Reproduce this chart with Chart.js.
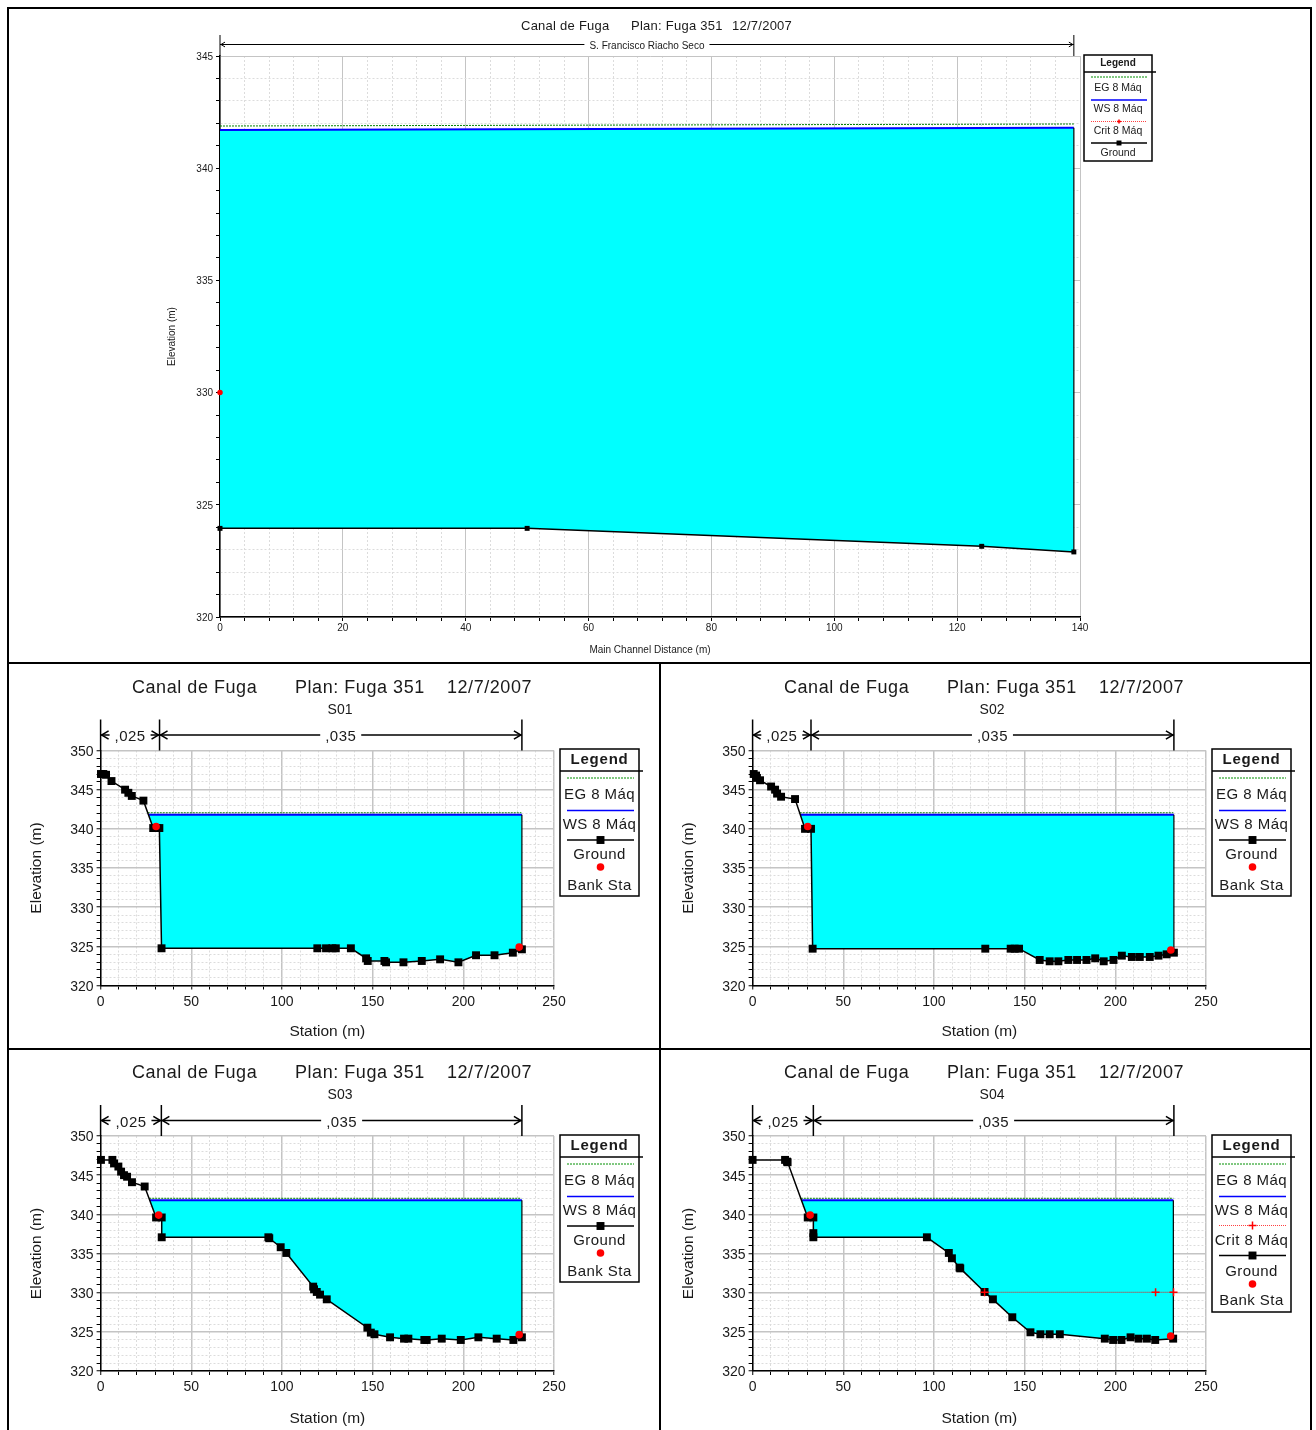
<!DOCTYPE html>
<html>
<head>
<meta charset="utf-8">
<title>Canal de Fuga</title>
<script src="https://cdn.jsdelivr.net/npm/chart.js@4"></script>
<style>
    html, body { margin: 0; height: 1430px; overflow: hidden; background: #fff; }
    canvas { position: absolute; }
    .rule { position: absolute; background: #000; }
</style>
</head>
<body>
<div class="rule" style="left:7px;top:7px;width:1305px;height:2px"></div>
<div class="rule" style="left:7px;top:7px;width:2px;height:1423px"></div>
<div class="rule" style="left:1310px;top:7px;width:2px;height:1423px"></div>
<div class="rule" style="left:7px;top:662px;width:1305px;height:2px"></div>
<div class="rule" style="left:7px;top:1048px;width:1305px;height:2px"></div>
<div class="rule" style="left:659px;top:662px;width:2px;height:768px"></div>
<script>
// Tick labels
const profileXLabels = [0, 20, 40, 60, 80, 100, 120, 140];
const profileYLabels = [320, 325, 330, 335, 340, 345];
const sectionXLabels = [0, 50, 100, 150, 200, 250];
const sectionYLabels = [320, 325, 330, 335, 340, 345, 350];

// Longitudinal profile
const profileGroundX = [0, 50, 124, 139];
const profileGroundY = [323.95, 323.95, 323.15, 322.9];
const profileWsX = [0, 139];
const profileWsY = [341.7, 341.8];
const profileEgX = [0, 139];
const profileEgY = [341.88, 341.97];
const profileCritX = [0];
const profileCritY = [330];

// S01
const s01GroundX = [0.2, 1.5, 3, 6, 13.5, 15.3, 17.2, 23.6, 29, 31, 32.4, 33.6, 119.5, 124.3, 127.8, 129.7, 138, 146.4, 147.3, 156.5, 157.4, 167, 177.1, 187.2, 197.3, 207, 217.2, 227.3, 232.3];
const s01GroundY = [347, 347, 346.9, 346.1, 345, 344.6, 344.2, 343.6, 340.1, 340.1, 340.1, 324.75, 324.75, 324.75, 324.75, 324.75, 324.75, 323.47, 323.13, 323.13, 322.96, 322.96, 323.13, 323.34, 322.96, 323.86, 323.86, 324.19, 324.62];
const s01WsX = [26.4, 232.3];
const s01WsY = [341.8, 341.8];
const s01EgX = [26, 232];
const s01EgY = [342.05, 342.05];
const s01BankX = [30.6, 230.8];
const s01BankY = [340.3, 324.9];

// S02
const s02GroundX = [0.6, 1.9, 2.4, 4.1, 10.2, 12.4, 13.5, 15.7, 23.4, 28.9, 32.2, 33.1, 128.3, 142.3, 144.5, 146.9, 158.3, 163.8, 168.6, 174.1, 178.9, 184.1, 188.9, 193.6, 199, 203.6, 209.1, 213.5, 219, 223.8, 228.3, 232.3];
const s02GroundY = [347, 346.8, 346.5, 346.2, 345.4, 345, 344.5, 344.1, 343.8, 340, 340, 324.7, 324.7, 324.7, 324.7, 324.7, 323.26, 323.09, 323.09, 323.26, 323.26, 323.26, 323.47, 323.09, 323.26, 323.81, 323.64, 323.64, 323.64, 323.81, 323.98, 324.19];
const s02WsX = [26.3, 232.3];
const s02WsY = [341.8, 341.8];
const s02EgX = [26, 232];
const s02EgY = [342.05, 342.05];
const s02BankX = [30.4, 230.6];
const s02BankY = [340.3, 324.53];

// S03
const s03GroundX = [0.2, 6.5, 7.4, 9.8, 11.3, 12.9, 14.6, 17.3, 24.3, 30.6, 33.7, 33.7, 92.5, 93, 99.3, 102.4, 117.2, 117.7, 119.2, 121, 124.7, 147.1, 149, 151, 159.6, 167.3, 169.7, 178.5, 179.8, 188.1, 198.6, 208.3, 218.4, 227.6, 232.3];
const s03GroundY = [346.95, 346.95, 346.5, 346.1, 345.45, 345, 344.8, 344.1, 343.55, 339.6, 339.6, 337.07, 337.07, 336.95, 335.8, 335.07, 330.77, 330.43, 330.09, 329.75, 329.15, 325.53, 324.9, 324.69, 324.3, 324.13, 324.13, 323.96, 323.96, 324.13, 323.96, 324.3, 324.13, 323.96, 324.3];
const s03WsX = [27.1, 232.3];
const s03WsY = [341.8, 341.8];
const s03EgX = [26.8, 232];
const s03EgY = [342.05, 342.05];
const s03BankX = [32, 230.8];
const s03BankY = [339.9, 324.64];

// S04
const s04GroundX = [0, 17.9, 19, 19.3, 30.4, 33.5, 33.5, 33.5, 96.1, 108.2, 109.9, 114.1, 114.5, 127.9, 132.5, 143.2, 153.2, 158.7, 163.8, 169.4, 194.2, 198.8, 203.4, 208.4, 212.8, 217.4, 222, 231.9];
const s04GroundY = [346.95, 346.95, 346.73, 346.65, 339.6, 339.6, 337.6, 337.07, 337.07, 335.07, 334.39, 333.2, 333.1, 330.09, 329.15, 326.86, 324.94, 324.69, 324.69, 324.69, 324.13, 323.96, 323.96, 324.3, 324.13, 324.13, 323.96, 324.13];
const s04WsX = [26.9, 232];
const s04WsY = [341.8, 341.8];
const s04EgX = [26.6, 232];
const s04EgY = [342.05, 342.05];
const s04CritX = [127.9, 222.2, 232.1];
const s04CritY = [330.05, 330.05, 330.05];
const s04BankX = [31.7, 230.5];
const s04BankY = [339.9, 324.47];

// Roughness bands: station of each break and the label between breaks
const s01Breaks = [0, 32.5, 232.3];
const s02Breaks = [0, 32.2, 232.3];
const s03Breaks = [0, 33.5, 232.3];
const s04Breaks = [0, 33.5, 232.3];
const manningLabels = [',025', ',035'];
const profileBreaks = [0, 139];
const profileBandLabels = ['S. Francisco Riacho Seco'];

const titleParts = ['Canal de Fuga', 'Plan: Fuga 351', '12/7/2007'];
const profileLegend = ['EG 8 Máq', 'WS 8 Máq', 'Crit 8 Máq', 'Ground'];
const sectionLegend = ['EG 8 Máq', 'WS 8 Máq', 'Ground', 'Bank Sta'];
const s04Legend = ['EG 8 Máq', 'WS 8 Máq', 'Crit 8 Máq', 'Ground', 'Bank Sta'];

const FONT = '"Liberation Sans", Arial, sans-serif';
const TEXT = '#1a1a1a';

function toPoints(xs, ys) {
    return xs.map((x, i) => ({ x, y: ys[i] }));
}

// Sizes for the big profile plot and for the four small cross sections
const profileLook = {
    tick: 10, axisTitle: 10, title: 13, sub: 10, legend: 10.5, legendTitle: 10,
    square: 3.5, bankRadius: 3, critRadius: 2, bandRise: 21, bandY: 11.5, arrow: 4,
    bandFont: 10, bandWidth: 1, titleY: -30, subY: -10, bandTextY: 2,
    titleSpacing: '0.25px', legendSpacing: '0px', legendTitleSpacing: '0px',
    xPad: 1, yOffset: 1,
    legendLine: 17, legendTitleY: 8,
    swatch: [22, 45, 66.5, 88], label: [33, 54, 76, 98], legendHeight: 106
};
const sectionLook = {
    tick: 14, axisTitle: 15.5, title: 18, sub: 14, legend: 15, legendTitle: 15,
    square: 5.6, bankRadius: 3.8, critRadius: 4, bandRise: 31, bandY: 15.5, arrow: 7,
    bandFont: 15, bandWidth: 1.5, titleY: -62.5, subY: -40.5, bandTextY: 2,
    titleSpacing: '0.55px', legendSpacing: '0.45px', legendTitleSpacing: '0.8px',
    xPad: 4, yOffset: 1.5,
    legendLine: 22, legendTitleY: 11,
    swatch: [29, 61.5, 91, 118], label: [46, 76, 106, 137], legendHeight: 147
};
const s04Look = Object.assign({}, sectionLook, {
    swatch: [29, 61.5, 90.5, 120.5, 149], label: [46, 76, 106, 137, 166], legendHeight: 177
});

function drawArrow(ctx, x, y, dir, size) {
    ctx.beginPath();
    ctx.moveTo(x + dir * size, y - size * 0.6);
    ctx.lineTo(x, y);
    ctx.lineTo(x + dir * size, y + size * 0.6);
    ctx.stroke();
}

// Bracket above the plot with the band labels broken into the line
function drawBands(chart, spec) {
    const { ctx, chartArea, scales } = chart;
    const look = spec.look;
    const y = chartArea.top - look.bandY;
    const xs = spec.breaks.map(v => scales.x.getPixelForValue(v));
    ctx.strokeStyle = '#000';
    ctx.fillStyle = TEXT;
    ctx.lineWidth = look.bandWidth;
    ctx.font = look.bandFont + 'px ' + FONT;
    ctx.letterSpacing = look.legendSpacing;
    ctx.textAlign = 'center';
    ctx.textBaseline = 'middle';
    xs.forEach(x => {
        ctx.beginPath();
        ctx.moveTo(x, chartArea.top - look.bandRise);
        ctx.lineTo(x, chartArea.top);
        ctx.stroke();
    });
    spec.bandLabels.forEach((label, i) => {
        const a = xs[i];
        const b = xs[i + 1];
        const mid = (a + b) / 2;
        const half = ctx.measureText(label).width / 2 + 5;
        ctx.beginPath();
        ctx.moveTo(a, y);
        ctx.lineTo(mid - half, y);
        ctx.moveTo(mid + half, y);
        ctx.lineTo(b, y);
        ctx.stroke();
        drawArrow(ctx, a + 1, y, 1, look.arrow);
        drawArrow(ctx, b - 1, y, -1, look.arrow);
        ctx.fillText(label, mid, y + look.bandTextY);
    });
}

function drawSwatch(ctx, name, x0, x1, y, look) {
    const mid = (x0 + x1) / 2;
    ctx.save();
    if (name !== 'Bank Sta') {
        ctx.beginPath();
        ctx.moveTo(x0, y);
        ctx.lineTo(x1, y);
        if (name.startsWith('EG')) {
            ctx.strokeStyle = '#009000';
            ctx.lineWidth = 1;
            ctx.setLineDash([2, 1]);
        } else if (name.startsWith('WS')) {
            ctx.strokeStyle = '#0000ff';
            ctx.lineWidth = 1.5;
        } else if (name.startsWith('Crit')) {
            ctx.strokeStyle = '#ff4040';
            ctx.lineWidth = 1;
            ctx.setLineDash([1, 1]);
        } else {
            ctx.strokeStyle = '#000';
            ctx.lineWidth = 1.5;
        }
        ctx.stroke();
        ctx.setLineDash([]);
    }
    if (name === 'Ground') {
        const side = look.square * Math.SQRT2;
        ctx.fillStyle = '#000';
        ctx.fillRect(mid - side / 2, y - side / 2, side, side);
    } else if (name === 'Bank Sta') {
        ctx.fillStyle = '#ff0000';
        ctx.beginPath();
        ctx.arc(mid, y, look.bankRadius, 0, Math.PI * 2);
        ctx.fill();
    } else if (name.startsWith('Crit')) {
        const r = look.critRadius;
        ctx.strokeStyle = '#ff0000';
        ctx.lineWidth = 1.5;
        ctx.beginPath();
        ctx.moveTo(mid - r, y);
        ctx.lineTo(mid + r, y);
        ctx.moveTo(mid, y - r);
        ctx.lineTo(mid, y + r);
        ctx.stroke();
    }
    ctx.restore();
}

function drawLegend(chart, spec) {
    const { ctx } = chart;
    const look = spec.look;
    const box = spec.legendBox;
    ctx.strokeStyle = '#000';
    ctx.lineWidth = 1.5;
    ctx.strokeRect(box.x, box.y, box.w, look.legendHeight);
    ctx.beginPath();
    ctx.moveTo(box.x, box.y + look.legendLine);
    ctx.lineTo(box.x + box.w + 4, box.y + look.legendLine);
    ctx.stroke();

    const cx = box.x + box.w / 2;
    ctx.fillStyle = TEXT;
    ctx.textAlign = 'center';
    ctx.textBaseline = 'middle';
    ctx.font = 'bold ' + look.legendTitle + 'px ' + FONT;
    ctx.letterSpacing = look.legendTitleSpacing;
    ctx.fillText('Legend', cx, box.y + look.legendTitleY);
    ctx.font = look.legend + 'px ' + FONT;
    ctx.letterSpacing = look.legendSpacing;
    spec.legend.forEach((name, i) => {
        drawSwatch(ctx, name, box.x + 7, box.x + box.w - 5, box.y + look.swatch[i], look);
        ctx.fillStyle = TEXT;
        ctx.fillText(name, cx, box.y + look.label[i]);
    });
}

function decorPlugin(spec) {
    return {
        id: 'decor',
        afterDraw(chart) {
            const { ctx, chartArea } = chart;
            const look = spec.look;
            ctx.save();
            ctx.fillStyle = TEXT;
            ctx.textBaseline = 'middle';
            ctx.textAlign = 'left';
            ctx.font = look.title + 'px ' + FONT;
            ctx.letterSpacing = look.titleSpacing;
            titleParts.forEach((part, i) => {
                ctx.fillText(part, spec.titleX[i], chartArea.top + look.titleY);
            });
            ctx.letterSpacing = '0px';
            if (spec.sub) {
                ctx.textAlign = 'center';
                ctx.font = look.sub + 'px ' + FONT;
                ctx.fillText(spec.sub, spec.subX, chartArea.top + look.subY);
            }
            drawBands(chart, spec);
            drawLegend(chart, spec);
            ctx.restore();
        }
    };
}

function axisOptions(spec, labels, min, max, step, titleText, titlePadding, fixSize, tickPadding, labelOffset) {
    const look = spec.look;
    return {
        type: 'linear',
        min,
        max,
        afterFit: fixSize,
        grid: {
            tickLength: 4,
            tickWidth: 1,
            tickColor: '#000',
            color: c => labels.includes(c.tick.value) ? '#c4c4c4' : '#dcdcdc',
            lineWidth: c => labels.includes(c.tick.value) ? spec.majorWidth : 1
        },
        border: {
            color: '#000',
            width: 1.5,
            dash: c => labels.includes(c.tick.value) ? [] : [2, 2]
        },
        ticks: {
            stepSize: step,
            autoSkip: false,
            maxRotation: 0,
            padding: tickPadding,
            labelOffset,
            color: TEXT,
            font: { family: FONT, size: look.tick },
            callback: value => labels.includes(value) ? String(value) : ''
        },
        title: {
            display: true,
            text: titleText,
            color: TEXT,
            font: { family: FONT, size: look.axisTitle },
            padding: titlePadding
        }
    };
}

function makeChart(spec) {
    const canvas = document.createElement('canvas');
    canvas.width = spec.width;
    canvas.height = spec.height;
    canvas.style.left = spec.left + 'px';
    canvas.style.top = spec.top + 'px';
    document.body.appendChild(canvas);

    const look = spec.look;
    const lastGround = spec.groundY[spec.groundY.length - 1];
    const datasets = [
        { label: 'EG', data: toPoints(spec.egX, spec.egY), borderColor: '#008000', borderWidth: 1, borderDash: [2, 1], pointRadius: 0, order: 5 },
        { label: 'WS', data: toPoints(spec.wsX, spec.wsY), borderColor: '#0000ff', borderWidth: 2, pointRadius: 0, order: 4, fill: '+1', backgroundColor: '#00ffff' },
        { label: 'Ground', data: toPoints(spec.groundX, spec.groundY), borderColor: '#000', borderWidth: 1.5, pointStyle: 'rect', pointRadius: look.square, pointBorderWidth: 0, pointBackgroundColor: '#000', order: 2, clip: false },
        // black edge that closes the water at the end of the section
        { label: 'End', data: toPoints([spec.wsX[1], spec.wsX[1]], [lastGround, spec.wsY[1]]), borderColor: '#000', borderWidth: 1.2, pointRadius: 0, order: 3 }
    ];
    if (spec.critX) {
        datasets.push({
            label: 'Crit', data: toPoints(spec.critX, spec.critY), borderColor: '#ff0000', borderWidth: 1, borderDash: [1, 1],
            pointStyle: spec.critStyle, pointRadius: look.critRadius, pointBorderColor: '#ff0000', pointBackgroundColor: '#ff0000', pointBorderWidth: 1.5, order: 1, clip: false
        });
    }
    if (spec.bankX) {
        datasets.push({
            label: 'Bank Sta', data: toPoints(spec.bankX, spec.bankY), showLine: false,
            pointRadius: look.bankRadius, pointBorderWidth: 0, pointBackgroundColor: '#ff0000', order: 0, clip: false
        });
    }

    new Chart(canvas, {
        type: 'line',
        data: { datasets },
        options: {
            responsive: false,
            animation: false,
            layout: { padding: { left: 0, top: spec.plotTop, right: spec.width - spec.plotRight, bottom: 0 } },
            plugins: { legend: { display: false }, tooltip: { enabled: false } },
            scales: {
                x: axisOptions(spec, spec.xLabels, spec.xMin, spec.xMax, spec.xStep, spec.xTitle, spec.xTitlePadding,
                    s => { s.height = spec.height - spec.plotBottom; }, look.xPad, 0),
                y: axisOptions(spec, spec.yLabels, spec.yMin, spec.yMax, 1, 'Elevation (m)', spec.yTitlePadding,
                    s => { s.width = spec.plotLeft; }, 3, look.yOffset)
            }
        },
        plugins: [decorPlugin(spec)]
    });
}

makeChart({
    look: profileLook, left: 9, top: 9, width: 1301, height: 653,
    plotLeft: 211, plotTop: 47, plotRight: 1071, plotBottom: 608,
    xLabels: profileXLabels, yLabels: profileYLabels, xMin: 0, xMax: 140, xStep: 4, yMin: 320, yMax: 345,
    xTitle: 'Main Channel Distance (m)', xTitlePadding: { top: 0, bottom: 6 }, yTitlePadding: { top: 157, bottom: 0 },
    majorWidth: 1,
    groundX: profileGroundX, groundY: profileGroundY, wsX: profileWsX, wsY: profileWsY, egX: profileEgX, egY: profileEgY,
    critX: profileCritX, critY: profileCritY, critStyle: 'circle',
    titleX: [512, 622, 723], sub: '',
    breaks: profileBreaks, bandLabels: profileBandLabels,
    legend: profileLegend, legendBox: { x: 1075, y: 46, w: 68 }
});

function sectionSpec(extra) {
    return Object.assign({
        look: sectionLook, width: 650, height: 384,
        plotLeft: 91.6, plotRight: 545, plotBottom: 321.5,
        xLabels: sectionXLabels, yLabels: sectionYLabels, xMin: 0, xMax: 250, xStep: 10, yMin: 320, yMax: 350,
        xTitle: 'Station (m)', xTitlePadding: { top: 0, bottom: 7 }, yTitlePadding: { top: 18, bottom: 0 },
        majorWidth: 1.5, critStyle: 'cross',
        titleX: [123, 286, 438], subX: 331,
        bandLabels: manningLabels, legend: sectionLegend
    }, extra);
}

makeChart(sectionSpec({
    left: 9, top: 664, plotTop: 86.5, sub: 'S01', breaks: s01Breaks,
    groundX: s01GroundX, groundY: s01GroundY, wsX: s01WsX, wsY: s01WsY, egX: s01EgX, egY: s01EgY, bankX: s01BankX, bankY: s01BankY,
    legendBox: { x: 551, y: 85, w: 79 }
}));
makeChart(sectionSpec({
    left: 661, top: 664, plotTop: 86.5, sub: 'S02', breaks: s02Breaks,
    groundX: s02GroundX, groundY: s02GroundY, wsX: s02WsX, wsY: s02WsY, egX: s02EgX, egY: s02EgY, bankX: s02BankX, bankY: s02BankY,
    legendBox: { x: 551, y: 85, w: 79 }
}));
makeChart(sectionSpec({
    left: 9, top: 1050, height: 380, plotTop: 86, plotBottom: 321, sub: 'S03', breaks: s03Breaks,
    xTitlePadding: { top: 0, bottom: 2 },
    groundX: s03GroundX, groundY: s03GroundY, wsX: s03WsX, wsY: s03WsY, egX: s03EgX, egY: s03EgY, bankX: s03BankX, bankY: s03BankY,
    legendBox: { x: 551, y: 85, w: 79 }
}));
makeChart(sectionSpec({
    left: 661, top: 1050, height: 380, plotTop: 86, plotBottom: 321, sub: 'S04', breaks: s04Breaks, look: s04Look,
    xTitlePadding: { top: 0, bottom: 2 },
    groundX: s04GroundX, groundY: s04GroundY, wsX: s04WsX, wsY: s04WsY, egX: s04EgX, egY: s04EgY, bankX: s04BankX, bankY: s04BankY,
    critX: s04CritX, critY: s04CritY, legend: s04Legend,
    legendBox: { x: 551, y: 85, w: 79 }
}));
</script>
</body>
</html>
